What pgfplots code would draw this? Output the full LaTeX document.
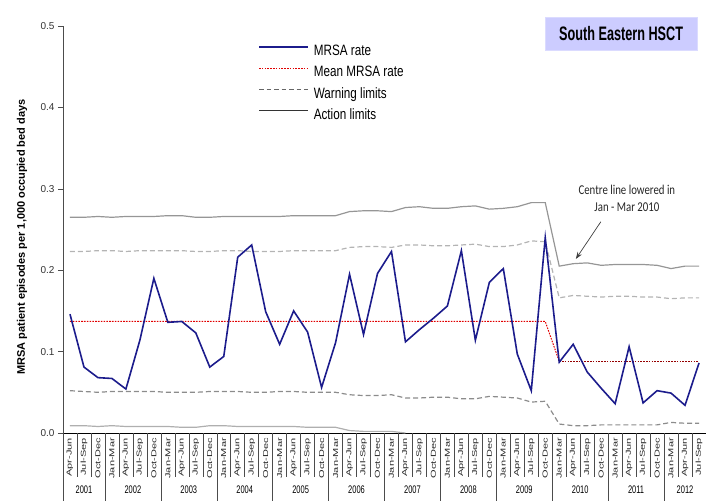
\documentclass[border=0pt]{standalone}
\usepackage{fontspec}
\setmainfont{Liberation Sans}
\newfontfamily\legfont{Liberation Sans}[FakeStretch=0.78]
\newfontfamily\titlefont{Liberation Sans}[FakeStretch=0.65]
\newfontfamily\notefont{Carlito}[FakeStretch=0.8]
\newfontfamily\yearfont{Liberation Sans}[FakeStretch=0.68]
\usepackage{graphicx}
\usepackage{pgfplots}
\usepackage{pgfplotstable}
\pgfplotsset{compat=1.18}
\usetikzlibrary{arrows.meta}

\definecolor{mrsa}{RGB}{28,28,140}
\definecolor{meanred}{RGB}{225,0,0}
\definecolor{meandark}{RGB}{150,0,0}
\definecolor{boxfill}{RGB}{204,204,255}
\definecolor{actup}{RGB}{150,150,150}
\definecolor{actlo}{RGB}{175,175,175}
\definecolor{warnup}{RGB}{180,180,180}
\definecolor{warnlo}{RGB}{140,140,140}

\newcommand{\q}[1]{\scalebox{1}[0.65]{#1}}

% quarterly MRSA rate with control limits (nan = not drawn)
\pgfplotstableread{
x  mrsa  au    wu    wl    al
0  0.146 0.265 0.223 0.052 0.009
1  0.081 0.265 0.223 0.051 0.009
2  0.068 0.266 0.224 0.050 0.008
3  0.067 0.265 0.224 0.051 0.009
4  0.054 0.266 0.223 0.051 0.008
5  0.114 0.266 0.224 0.051 0.008
6  0.190 0.266 0.224 0.051 0.008
7  0.136 0.267 0.224 0.050 0.008
8  0.137 0.267 0.224 0.050 0.007
9  0.123 0.265 0.223 0.050 0.007
10 0.081 0.265 0.223 0.051 0.009
11 0.094 0.266 0.224 0.051 0.009
12 0.216 0.266 0.224 0.051 0.008
13 0.231 0.266 0.223 0.050 0.008
14 0.149 0.266 0.223 0.050 0.008
15 0.109 0.266 0.223 0.051 0.008
16 0.150 0.267 0.224 0.051 0.008
17 0.124 0.267 0.224 0.050 0.007
18 0.056 0.267 0.224 0.050 0.007
19 0.111 0.267 0.224 0.050 0.007
20 0.195 0.272 0.228 0.047 0.003
21 0.121 0.273 0.229 0.046 0.002
22 0.196 0.273 0.229 0.046 0.002
23 0.223 0.272 0.228 0.047 0.002
24 0.112 0.277 0.231 0.043 0.000
25 0.127 0.278 0.231 0.043 nan
26 0.141 0.276 0.230 0.044 nan
27 0.156 0.276 0.230 0.044 nan
28 0.224 0.278 0.231 0.042 nan
29 0.114 0.279 0.232 0.042 nan
30 0.185 0.275 0.229 0.045 nan
31 0.202 0.276 0.229 0.044 nan
32 0.097 0.278 0.231 0.043 nan
33 0.052 0.283 0.236 0.038 nan
34 0.240 0.283 0.235 0.039 nan
35 0.087 0.205 0.166 0.011 nan
36 0.109 0.208 0.169 0.009 nan
37 0.075 0.209 0.168 0.009 nan
38 0.055 0.206 0.167 0.010 nan
39 0.036 0.207 0.168 0.010 nan
40 0.106 0.207 0.168 0.010 nan
41 0.037 0.207 0.167 0.010 nan
42 0.052 0.206 0.167 0.010 nan
43 0.049 0.202 0.165 0.013 nan
44 0.034 0.205 0.166 0.012 nan
45 0.086 0.205 0.166 0.012 nan
}\spcdata

\begin{document}
\begin{tikzpicture}
\begin{axis}[
  scale only axis,
  width=643pt, height=407pt,
  xmin=-0.5, xmax=45.5, ymin=0, ymax=0.5,
  axis x line*=bottom, axis y line*=left,
  x axis line style={black, line width=0.8pt},
  y axis line style={black!70, line width=0.8pt},
  clip=false,
  unbounded coords=jump,
  tick align=outside, major tick length=5pt,
  ytick={0,0.1,0.2,0.3,0.4,0.5},
  ytick style={black!70, line width=0.6pt},
  yticklabel style={font=\fontsize{10}{10}\selectfont, text=black!80,
    /pgf/number format/.cd, fixed, fixed zerofill, precision=1, assume math mode=true},
  xtick={0,...,45},
  xtick style={draw=none},
  xticklabel style={rotate=90, anchor=east, font=\fontsize{11}{11}\selectfont, inner sep=0pt, text=black!85},
  xticklabels={\q{Apr-Jun},\q{Jul-Sep},\q{Oct-Dec},
    \q{Jan-Mar},\q{Apr-Jun},\q{Jul-Sep},\q{Oct-Dec},
    \q{Jan-Mar},\q{Apr-Jun},\q{Jul-Sep},\q{Oct-Dec},
    \q{Jan-Mar},\q{Apr-Jun},\q{Jul-Sep},\q{Oct-Dec},
    \q{Jan-Mar},\q{Apr-Jun},\q{Jul-Sep},\q{Oct-Dec},
    \q{Jan-Mar},\q{Apr-Jun},\q{Jul-Sep},\q{Oct-Dec},
    \q{Jan-Mar},\q{Apr-Jun},\q{Jul-Sep},\q{Oct-Dec},
    \q{Jan-Mar},\q{Apr-Jun},\q{Jul-Sep},\q{Oct-Dec},
    \q{Jan-Mar},\q{Apr-Jun},\q{Jul-Sep},\q{Oct-Dec},
    \q{Jan-Mar},\q{Apr-Jun},\q{Jul-Sep},\q{Oct-Dec},
    \q{Jan-Mar},\q{Apr-Jun},\q{Jul-Sep},\q{Oct-Dec},
    \q{Jan-Mar},\q{Apr-Jun},\q{Jul-Sep}},
  ylabel={MRSA patient episodes per 1,000 occupied bed days},
  ylabel style={at={(axis description cs:-0.0638,0.4816)}, anchor=center, font=\bfseries\fontsize{11}{11}\selectfont},
  legend style={at={(rel axis cs:0.3033,0.958)}, anchor=north west, draw=none, fill=none,
    inner sep=0pt, row sep=5pt, font=\legfont\fontsize{15}{15}\selectfont,
    /tikz/every odd column/.append style={column sep=3pt}},
  legend cell align=left,
  legend image code/.code={\draw[#1] (0pt,4pt) -- (49pt,4pt);},
]
\addlegendimage{mrsa, line width=1.6pt}
\addlegendentry{\strut MRSA rate}
\addlegendimage{meanred, line width=1pt, dash pattern=on 1.6pt off 1.2pt}
\addlegendentry{\strut Mean MRSA rate}
\addlegendimage{black!60, line width=1pt, dash pattern=on 4.5pt off 3pt}
\addlegendentry{\strut Warning limits}
\addlegendimage{black!80, line width=0.8pt}
\addlegendentry{\strut Action limits}

\addplot[forget plot, actup, line width=1.2pt] table[x=x, y=au] {\spcdata};
\addplot[forget plot, actlo, line width=1.2pt] table[x=x, y=al] {\spcdata};
\addplot[forget plot, warnup, line width=1.2pt, dash pattern=on 5pt off 3pt] table[x=x, y=wu] {\spcdata};
\addplot[forget plot, warnlo, line width=1.2pt, dash pattern=on 5pt off 3pt] table[x=x, y=wl] {\spcdata};
\addplot[forget plot, meanred, line width=1pt, dash pattern=on 1.6pt off 1.2pt] coordinates {(0,0.137) (34,0.137) (35,0.088)};
\addplot[forget plot, meandark, line width=1pt, dash pattern=on 1.6pt off 1.2pt] coordinates {(35,0.088) (45,0.088)};
\addplot[forget plot, mrsa, line width=1.6pt] table[x=x, y=mrsa] {\spcdata};

% category separators below the axis
\pgfplotsinvokeforeach{0.5,1.5,...,44.5}{
  \draw[black!70, line width=0.5pt] (axis cs:#1,0) -- ++(0pt,-44pt);
}
\pgfplotsinvokeforeach{-0.5,2.5,6.5,10.5,14.5,18.5,22.5,26.5,30.5,34.5,38.5,42.5}{
  \draw[black!70, line width=0.5pt] (axis cs:#1,0) -- ++(0pt,-68pt);
}
\tikzset{yr/.style={yshift=-57pt, font=\yearfont\fontsize{11}{11}\selectfont}}
\node[yr] at (axis cs:1,0) {2001};
\node[yr] at (axis cs:4.5,0) {2002};
\node[yr] at (axis cs:8.5,0) {2003};
\node[yr] at (axis cs:12.5,0) {2004};
\node[yr] at (axis cs:16.5,0) {2005};
\node[yr] at (axis cs:20.5,0) {2006};
\node[yr] at (axis cs:24.5,0) {2007};
\node[yr] at (axis cs:28.5,0) {2008};
\node[yr] at (axis cs:32.5,0) {2009};
\node[yr] at (axis cs:36.5,0) {2010};
\node[yr] at (axis cs:40.5,0) {2011};
\node[yr] at (axis cs:44,0) {2012};

\node[fill=boxfill, draw=boxfill!70!white, minimum width=152pt, minimum height=33pt, inner sep=0pt,
  font=\titlefont\fontsize{19.5}{20}\selectfont\bfseries] at (rel axis cs:0.868,0.9816) {South Eastern HSCT};
\node[font=\notefont\fontsize{13.5}{17}\selectfont, align=center, text=black!85] at (axis cs:39.84,0.288)
  {Centre line lowered in\\Jan - Mar 2010};
\draw[-{Stealth[length=7pt,width=5pt]}, black!75, line width=0.7pt] (axis cs:37.98,0.2596) -- (axis cs:36.19,0.2138);
\end{axis}
\pgfresetboundingbox
\useasboundingbox (-63pt,-68pt) rectangle (643pt,433pt);
\end{tikzpicture}
\end{document}
